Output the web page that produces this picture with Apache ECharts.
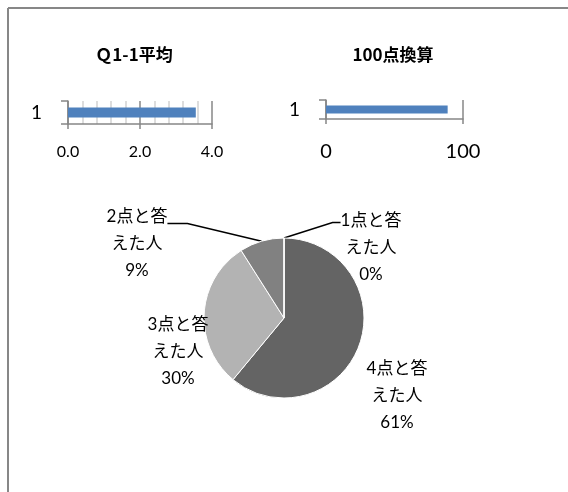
<!DOCTYPE html>
<html>
<head>
<meta charset="utf-8">
<script src="https://cdn.jsdelivr.net/npm/echarts@6/dist/echarts.min.js"></script>
<style>
html,body{margin:0;padding:0;background:#fff;overflow:hidden;}
#chart{position:absolute;left:0;top:0;width:568px;height:492px;}
</style>
</head>
<body>
<div id="chart"></div>
<script>
// ---- data ----
const avgCategories = ['1'];
const avgValues = [3.55];          // Q1-1平均
const scoreCategories = ['1'];
const scoreValues = [88.8];        // 100点換算
const pieNames = ['4点と答えた人', '3点と答えた人', '2点と答えた人', '1点と答えた人'];
const pieValues = [61, 30, 9, 0];
const avgTitle = 'Ｑ1-1平均';
const scoreTitle = '100点換算';

const pieColors = ['#646464', '#b3b3b3', '#818181', '#4d4d4d'];
const labelPos = [
  {x: 397, y: 396, va: 'middle'},
  {x: 178, y: 352, va: 'middle'},
  {x: 137, y: 284, va: 'bottom'},
  {x: 371, y: 288, va: 'bottom'}
];
const labelPad = [0, 0, 40, 50];
const lineLen2 = [0, 0, 20, 8];

const chart = echarts.init(document.getElementById('chart'), null, {renderer: 'canvas'});
const latin = "Lato, 'Noto Sans CJK JP', sans-serif";
const axisGray = '#878787';

const pieData = pieNames.map((n, i) => ({
  name: n,
  value: pieValues[i],
  itemStyle: {color: pieColors[i]},
  label: {padding: [labelPad[i], 0, 0, 0]},
  labelLine: {show: labelPad[i] > 0, length2: lineLen2[i]}
}));

chart.setOption({
  animation: false,
  graphic: [
    {type: 'line', shape: {x1: 8, y1: 8, x2: 568, y2: 8}, style: {stroke: axisGray, lineWidth: 2}, silent: true},
    {type: 'line', shape: {x1: 8, y1: 8, x2: 8, y2: 492}, style: {stroke: axisGray, lineWidth: 2}, silent: true}
  ],
  title: [
    {text: avgTitle, left: 134, top: 46, textAlign: 'center', padding: 0,
     textStyle: {fontFamily: "'Noto Sans CJK JP'", fontWeight: 'bold', fontSize: 17, color: '#000'}},
    {text: scoreTitle, left: 393, top: 46, textAlign: 'center', padding: 0,
     textStyle: {fontFamily: "'Noto Sans CJK JP'", fontWeight: 'bold', fontSize: 17, color: '#000'}}
  ],
  grid: [
    {left: 68, top: 101, width: 144, height: 23},
    {left: 326, top: 100, width: 137, height: 19}
  ],
  xAxis: [
    {type: 'value', gridIndex: 0, min: 0, max: 4, interval: 2,
     axisLine: {show: true, lineStyle: {color: axisGray, width: 1.5}},
     axisTick: {show: true, length: 5, lineStyle: {color: axisGray, width: 1.5}},
     minorTick: {show: false, splitNumber: 5},
     splitLine: {show: true, lineStyle: {color: axisGray, width: 1.5}},
     minorSplitLine: {show: true, lineStyle: {color: '#d2d2d2', width: 1.5}},
     axisLabel: {fontFamily: latin, fontSize: 16, color: '#000', margin: 20,
       formatter: v => v.toFixed(1)}},
    {type: 'value', gridIndex: 1, min: 0, max: 100, interval: 100,
     axisLine: {show: true, lineStyle: {color: axisGray, width: 1.5}},
     axisTick: {show: true, length: 5, lineStyle: {color: axisGray, width: 1.5}},
     splitLine: {show: true, lineStyle: {color: axisGray, width: 1.5}},
     axisLabel: {fontFamily: latin, fontSize: 20, color: '#000', margin: 23}}
  ],
  yAxis: [
    {type: 'category', gridIndex: 0, data: avgCategories,
     axisLine: {show: true, lineStyle: {color: axisGray, width: 1.5}},
     axisTick: {show: true, length: 7, lineStyle: {color: axisGray, width: 1.5}},
     axisLabel: {fontFamily: latin, fontSize: 19, color: '#000', margin: 26}},
    {type: 'category', gridIndex: 1, data: scoreCategories,
     axisLine: {show: true, lineStyle: {color: axisGray, width: 1.5}},
     axisTick: {show: true, length: 7, lineStyle: {color: axisGray, width: 1.5}},
     axisLabel: {fontFamily: latin, fontSize: 19, color: '#000', margin: 26}}
  ],
  series: [
    {type: 'bar', xAxisIndex: 0, yAxisIndex: 0, data: avgValues, barWidth: 10,
     itemStyle: {color: '#4f81bd'}, z: 5},
    {type: 'bar', xAxisIndex: 1, yAxisIndex: 1, data: scoreValues, barWidth: 8,
     itemStyle: {color: '#4f81bd'}, z: 5},
    {type: 'pie', center: [284, 318], radius: 80, startAngle: 90, clockwise: true,
     avoidLabelOverlap: false,
     itemStyle: {borderColor: '#ffffff', borderWidth: 1},
     label: {show: true, position: 'outside', fontFamily: latin, fontSize: 17,
       lineHeight: 27, color: '#000', align: 'center',
       formatter: p => p.name.slice(0, 4) + '\n' + p.name.slice(4) + '\n' + Math.round(p.percent) + '%'},
     labelLine: {lineStyle: {color: '#000', width: 1.5}, length: 10, minTurnAngle: 0},
     labelLayout: p => {
       const L = labelPos[p.dataIndex];
       return {x: L.x, y: L.y, align: 'center', verticalAlign: L.va};
     },
     data: pieData}
  ]
});
</script>
</body>
</html>
